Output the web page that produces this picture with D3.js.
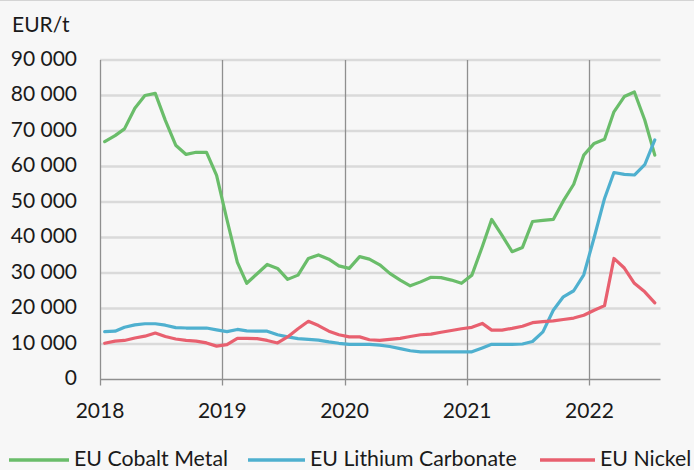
<!DOCTYPE html>
<html><head><meta charset="utf-8">
<script src="https://cdn.jsdelivr.net/npm/d3@7"></script>
<style>
html,body{margin:0;padding:0;background:#f7f7f7;}
svg{display:block;}
text{font-family:Lato, "Open Sans", sans-serif;fill:#1a1a1a;}
</style></head>
<body>
<svg id="chart" width="694" height="470"></svg>
<script>
const months = [
"2018-01","2018-02","2018-03","2018-04","2018-05","2018-06","2018-07","2018-08","2018-09","2018-10","2018-11","2018-12",
"2019-01","2019-02","2019-03","2019-04","2019-05","2019-06","2019-07","2019-08","2019-09","2019-10","2019-11","2019-12",
"2020-01","2020-02","2020-03","2020-04","2020-05","2020-06","2020-07","2020-08","2020-09","2020-10","2020-11","2020-12",
"2021-01","2021-02","2021-03","2021-04","2021-05","2021-06","2021-07","2021-08","2021-09","2021-10","2021-11","2021-12",
"2022-01","2022-02","2022-03","2022-04","2022-05","2022-06","2022-07"];

const cobalt = [67000,68700,70600,76400,80000,80600,73000,66000,63400,64000,64000,57500,
45000,33000,27100,29800,32400,31300,28200,29400,34100,35100,33900,32000,
31300,34600,33900,32300,29900,28000,26400,27500,28800,28700,28000,27100,
29400,37400,45100,40600,36000,37200,44500,44800,45100,50300,55000,63200,
66500,67700,75400,79700,81000,73100,63200];

const lithium = [13500,13600,14700,15400,15700,15700,15300,14600,14500,14500,14500,14000,
13500,14100,13700,13600,13600,12600,12000,11500,11300,11100,10600,10200,
9900,9900,9900,9700,9300,8700,8100,7800,7800,7800,7800,7800,
7800,8900,9900,9900,9900,10000,10700,13400,19500,23300,25000,29500,
40000,51000,58300,57800,57600,60500,67500];

const nickel = [10200,10800,11000,11700,12200,13100,12100,11400,11000,10800,10300,9400,
9800,11600,11600,11500,11000,10300,12000,14300,16400,15200,13600,12600,
12000,12000,11200,11000,11300,11600,12100,12600,12800,13300,13800,14300,
14700,15800,13900,13900,14400,15000,16000,16300,16500,16900,17300,18100,
19500,20800,34100,31400,27100,24700,21600];

const seriesNames = ["EU Cobalt Metal","EU Lithium Carbonate","EU Nickel"];
const seriesColors = ["#6abd6a","#4fb0cf","#e8606f"];
const yTicks = [0,10000,20000,30000,40000,50000,60000,70000,80000,90000];
const xTickYears = [2018,2019,2020,2021,2022];
const unitLabel = "EUR/t";

(function(){
const svg = d3.select("#chart");
const W = 694, H = 470;
const pL = 100, pR = 660.5, pT = 60, pB = 379.5;
const fs = 21;

svg.append("rect").attr("width",W).attr("height",H).attr("fill","#f7f7f7");
svg.append("line").attr("x1",0).attr("x2",W).attr("y1",0.5).attr("y2",0.5).attr("stroke","#d4d4d4");

const parse = d3.timeParse("%Y-%m");
const dates = months.map(m => { const d = parse(m); return new Date(d.getFullYear(), d.getMonth(), 15); });

const x = d3.scaleTime().domain([new Date(2018,0,1), new Date(2022,7,1)]).range([pL,pR]);
const y = d3.scaleLinear().domain([0,90000]).range([pB,pT]);

const loc = d3.formatLocale({decimal:".",thousands:" ",grouping:[3],currency:["",""]});
const fmt = loc.format(",");

svg.append("g").selectAll("line").data(yTicks.filter(v=>v>0)).join("line")
  .attr("x1",pL).attr("x2",pR).attr("y1",d=>y(d)).attr("y2",d=>y(d))
  .attr("stroke","#dadada").attr("stroke-width",2.5);

const yearDates = xTickYears.map(yy=>new Date(yy,0,1));
svg.append("g").selectAll("line").data(yearDates).join("line")
  .attr("x1",d=>Math.round(x(d))+0.5).attr("x2",d=>Math.round(x(d))+0.5)
  .attr("y1",pT).attr("y2",pB+6)
  .attr("stroke","#8f8f8f").attr("stroke-width",1.3);

svg.append("line").attr("x1",pL).attr("x2",pR).attr("y1",pB).attr("y2",pB)
  .attr("stroke","#8f8f8f").attr("stroke-width",1.3);

svg.append("g").selectAll("text").data(yTicks).join("text")
  .attr("x",77).attr("y",d=>y(d)+5.5).attr("text-anchor","end")
  .attr("font-size",fs).text(d=>fmt(d));

svg.append("g").selectAll("text").data(yearDates).join("text")
  .attr("x",d=>x(d)).attr("y",418).attr("text-anchor","middle")
  .attr("font-size",fs).text(d=>d.getFullYear());

svg.append("text").attr("x",12).attr("y",31.5).attr("font-size",fs).text(unitLabel);

const line = d3.line().x((d,i)=>x(dates[i])).y(d=>y(d));
const allSeries = [cobalt, lithium, nickel];
allSeries.forEach((s,k)=>{
  svg.append("path").datum(s).attr("d",line).attr("fill","none")
    .attr("stroke",seriesColors[k]).attr("stroke-width",3.2)
    .attr("stroke-linejoin","round").attr("stroke-linecap","round");
});

const legendX = [9, 248, 540];
const legendLineW = [60, 57, 55];
seriesNames.forEach((n,k)=>{
  svg.append("line").attr("x1",legendX[k]).attr("x2",legendX[k]+legendLineW[k])
    .attr("y1",460).attr("y2",460).attr("stroke",seriesColors[k]).attr("stroke-width",3.5);
  svg.append("text").attr("x",legendX[k]+legendLineW[k]+5).attr("y",466)
    .attr("font-size",21.3).text(n);
});
})();
</script>
</body></html>
